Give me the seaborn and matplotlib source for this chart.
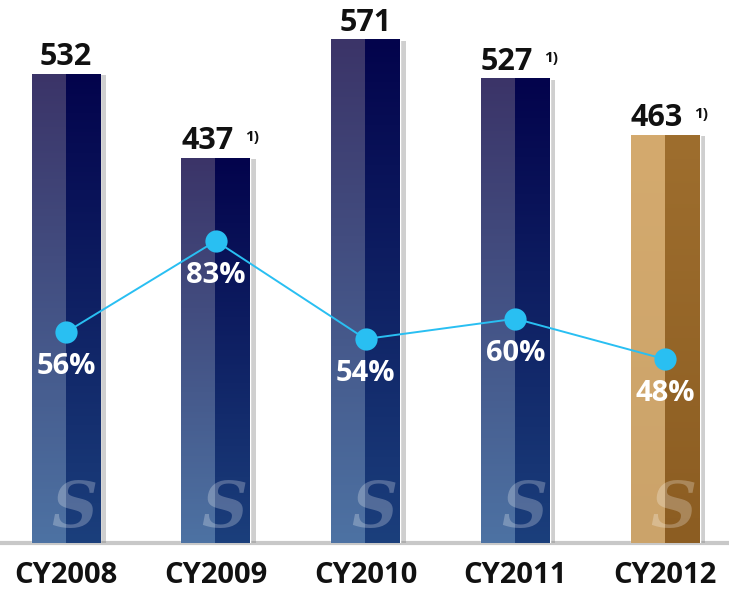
import numpy as np
import pandas as pd
import matplotlib
matplotlib.use("Agg")
import matplotlib.pyplot as plt
import seaborn as sns
from matplotlib import patheffects as pe
from matplotlib.colors import to_rgb

# ---- data ----
years = ["CY2008", "CY2009", "CY2010", "CY2011", "CY2012"]
values = [532, 437, 571, 527, 463]
ratios = [56, 83, 54, 60, 48]
footnotes = ["", "1)", "", "1)", "1)"]

sns.set_theme(style="white")
plt.rcParams["font.family"] = ["Open Sans", "DejaVu Sans"]

W, H = 729, 591
fig = plt.figure(figsize=(W / 100, H / 100), dpi=100)
ax = fig.add_axes([0, 48 / H, 1, 543 / H])

df = pd.DataFrame({"year": years, "value": values})
sns.barplot(data=df, x="year", y="value", ax=ax, width=0.46,
            color="#1a1a5a", saturation=1, zorder=2)

XL = (-66 / 149.8, (W - 66) / 149.8)
YL = (0, 543 / 0.882)

navy = dict(lt="#3b3468", lb="#4d72a3", rt="#03034c", rb="#1b3f7c")
tan = dict(lt="#d4aa6e", lb="#cba36a", rt="#9e6e2e", rb="#8c5d22")

def grad_img(c, n=200, m=60):
    t = np.linspace(0, 1, n)[:, None, None]
    lt, lb, rt, rb = (np.array(to_rgb(c[k])) for k in ("lt", "lb", "rt", "rb"))
    left = lt + (lb - lt) * t
    right = rt + (rb - rt) * t
    s = np.linspace(0, 1, m)
    w = (s >= 0.5).astype(float)[None, :, None]
    img = left * (1 - w) + right * w
    return np.clip(img, 0, 1)

for i, p in enumerate(ax.patches):
    x0, w, h = p.get_x(), p.get_width(), p.get_height()
    p.set_path_effects([pe.SimplePatchShadow(offset=(4, -1), shadow_rgbFace="#888888", alpha=0.4), pe.Normal()])
    c = tan if i == len(values) - 1 else navy
    im = ax.imshow(grad_img(c), extent=[x0, x0 + w, 0, h], origin="upper",
                   aspect="auto", zorder=3, interpolation="nearest")
    im.set_clip_path(p)
    ax.annotate("S", xy=(x0 + w / 2, 0), xytext=(6, 2), textcoords="offset points",
                ha="center", va="bottom", fontsize=46, fontweight="bold",
                family="DejaVu Serif", style="italic", color="white", alpha=0.25, zorder=4)

ax.set_xlim(*XL)
ax.set_ylim(*YL)

for i, (v, f) in enumerate(zip(values, footnotes)):
    dx = -6 if f else 0
    ax.annotate(str(v), xy=(i, v), xytext=(dx, 6), textcoords="offset points",
                ha="center", va="baseline", fontsize=22, fontweight="bold", color="#111111")
    if f:
        ax.annotate(f, xy=(i, v), xytext=(dx + 32, 12), textcoords="offset points",
                    ha="center", va="baseline", fontsize=11, fontweight="bold", color="#111111")

ax.axhline(0, color="#c8c8c8", lw=3, clip_on=False, zorder=1)

ax.set_xlabel("")
ax.set_ylabel("")
ax.set_yticks([])
ax.set_xticks(range(len(years)))
ax.set_xticklabels(years, fontsize=21, fontweight="bold", color="#111111")
ax.tick_params(axis="x", length=0, pad=13)
for s in ax.spines.values():
    s.set_visible(False)

ax2 = ax.twinx()
ldf = pd.DataFrame({"x": np.arange(len(ratios)), "r": ratios})
sns.lineplot(data=ldf, x="x", y="r", ax=ax2, color="#29bff2", lw=1.4,
             marker="o", markersize=16, markeredgewidth=0, zorder=5)
ax2.set_ylim(-6.36, 154.3)
ax2.set_xlim(*XL)
ax2.set_yticks([])
ax2.set_xlabel("")
ax2.set_ylabel("")
for s in ax2.spines.values():
    s.set_visible(False)
for i, r in enumerate(ratios):
    ax2.annotate(f"{r}%", xy=(i, r), xytext=(0, -25), textcoords="offset points",
                 ha="center", va="center", fontsize=21, fontweight="bold", color="white", zorder=6)

fig.savefig("out.png", dpi=100)
